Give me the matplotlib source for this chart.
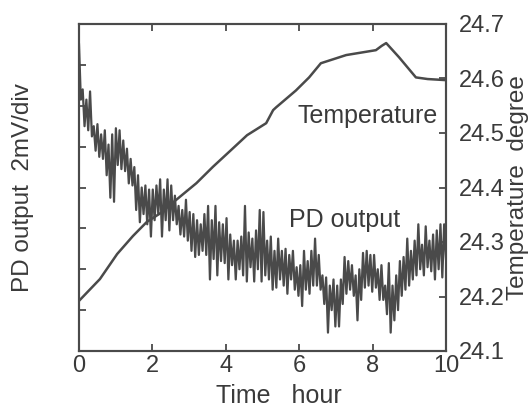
import matplotlib.pyplot as plt
import numpy as np

plt.rcParams['font.family'] = ['Liberation Sans', 'DejaVu Sans']

# Temperature (right axis, degree)
temp_time = [0, 0.57, 1.04, 1.47, 1.85, 2.2, 2.75, 3.2, 3.65, 4.1, 4.58, 5.10, 5.29,
             5.37, 5.91, 6.27, 6.59, 7.28, 8.09, 8.25, 8.37, 8.72, 9.18, 9.5, 10]
temp_val = [24.192, 24.232, 24.278, 24.311, 24.337, 24.352, 24.383, 24.408, 24.438,
            24.466, 24.496, 24.518, 24.542, 24.547, 24.578, 24.602, 24.628, 24.643,
            24.652, 24.66, 24.665, 24.639, 24.602, 24.599, 24.597]

# PD output (left axis, mV) - upper / lower edge of the noisy trace every 0.1 h
pd_hi = [15.0, 12.8, 12.3, 12.7, 11.0, 11.1, 10.6, 10.8, 10.1, 10.6,
         10.9, 10.8, 10.3, 9.9, 9.4, 9.0, 8.6, 8.0, 8.1, 7.9,
         7.9, 8.1, 8.4, 7.9, 8.4, 8.1, 7.6, 7.1, 6.9, 7.4,
         6.8, 6.7, 6.4, 6.2, 6.7, 7.1, 6.4, 7.1, 6.3, 6.2,
         6.5, 5.7, 5.4, 5.4, 5.6, 7.1, 5.8, 5.5, 5.9, 6.9,
         6.8, 5.4, 5.6, 4.9, 5.5, 4.9, 5.0, 4.7, 4.9, 4.1,
         4.2, 4.9, 4.4, 4.9, 5.5, 4.7, 3.7, 3.6, 3.2, 3.5,
         3.2, 3.5, 4.6, 4.4, 4.2, 3.7, 4.0, 4.8, 4.9, 4.7,
         4.7, 4.0, 4.2, 3.2, 4.3, 3.2, 3.7, 4.4, 4.6, 5.5,
         4.9, 5.4, 6.2, 5.2, 6.1, 5.4, 5.7, 5.9, 6.2, 6.2]
pd_lo = [12.3, 11.0, 10.8, 10.5, 9.8, 9.5, 9.4, 8.6, 7.5, 7.3,
         9.1, 8.9, 8.8, 8.2, 8.1, 6.9, 6.3, 6.7, 6.2, 5.6,
         6.4, 6.7, 5.6, 6.4, 5.9, 6.4, 6.2, 5.7, 5.6, 5.4,
         4.9, 4.6, 4.7, 4.9, 4.7, 3.5, 4.5, 3.7, 4.4, 4.3,
         3.5, 4.2, 3.5, 4.0, 3.7, 3.4, 4.1, 3.4, 4.0, 3.4,
         3.7, 3.5, 3.0, 3.1, 3.5, 3.2, 2.8, 3.5, 3.0, 2.7,
         2.2, 3.0, 2.8, 3.2, 3.2, 3.0, 2.3, 0.9, 2.0, 1.2,
         1.2, 2.3, 2.8, 3.0, 2.7, 1.5, 2.5, 3.1, 3.2, 2.9,
         3.1, 2.5, 2.5, 1.8, 0.9, 1.5, 2.0, 2.7, 3.0, 3.2,
         3.5, 3.7, 4.0, 3.7, 4.1, 3.9, 3.5, 4.0, 3.6, 4.5]

pd_val = np.ravel(np.column_stack([pd_hi, pd_lo]))
pd_time = np.linspace(0, 10, len(pd_val))

ink = '#4a4a4a'
txt = '#3a3a3a'

fig = plt.figure(figsize=(5.32, 4.07), dpi=100)
ax = fig.add_axes([79 / 532, 1 - 351 / 407, 367 / 532, 327 / 407])
ax2 = ax.twinx()

ax.plot(pd_time, pd_val, color=ink, lw=1.6)
ax2.plot(temp_time, temp_val, color=ink, lw=1.8)

ax.set_xlim(0, 10)
ax.set_ylim(0, 16)
ax2.set_ylim(24.1, 24.7)

ax.set_xticks([0, 2, 4, 6, 8, 10])
ax.set_yticks([2, 4, 6, 8, 10, 12, 14])
ax.set_yticklabels([])
ax2.set_yticks([24.1, 24.2, 24.3, 24.4, 24.5, 24.6, 24.7])
ax2.set_yticklabels(['24.1', '24.2', '24.3', '24.4', '24.5', '24.6', '24.7'])

ax.tick_params(axis='x', direction='in', length=5, width=1.3, colors=ink,
               labelcolor=txt, labelsize=17, pad=3, top=True)
ax.tick_params(axis='y', direction='in', length=5, width=1.3, colors=ink)
ax2.tick_params(axis='y', direction='in', length=5, width=1.3, colors=ink,
                labelcolor=txt, labelsize=17, pad=9)

for a in (ax, ax2):
    for s in a.spines.values():
        s.set_color(ink)
        s.set_linewidth(1.5)

ax.set_xlabel('Time   hour', fontsize=18, color=txt, labelpad=5, x=0.545)
ax.set_ylabel('PD output  2mV/div', fontsize=17.5, color=txt, labelpad=29)
ax2.set_ylabel('Temperature  degree', fontsize=17.5, color=txt, labelpad=2)

ax.text(9.78, 11.15, 'Temperature', fontsize=18, color=txt, ha='right', va='baseline')
ax.text(5.72, 6.07, 'PD output', fontsize=18, color=txt, ha='left', va='baseline')

fig.savefig('out.png', dpi=100)
